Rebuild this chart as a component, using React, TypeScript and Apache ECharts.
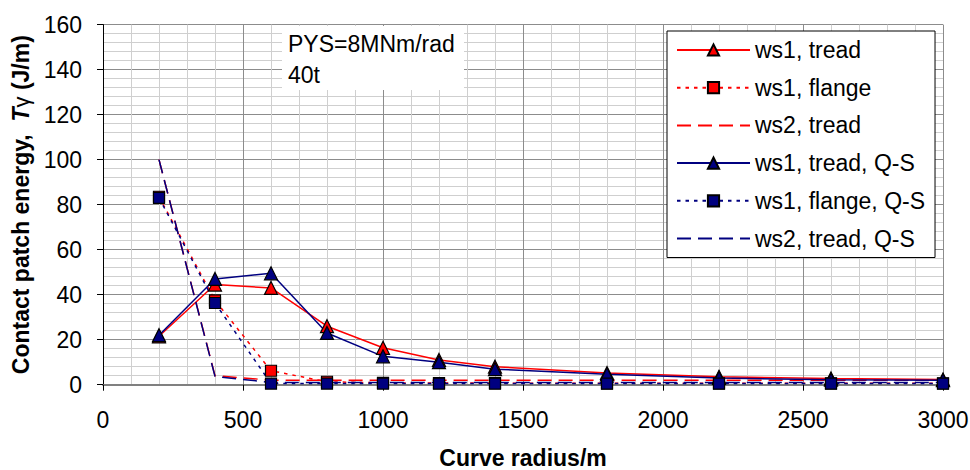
import React, { useEffect, useRef } from "react";
import * as echarts from "echarts";

const radius = [200, 400, 600, 800, 1000, 1200, 1400, 1800, 2200, 2600, 3000];
const ws1Tread = [21.5, 44.5, 43, 26, 16.4, 11, 8, 5.2, 3.5, 2.8, 2.3];
const ws1Flange = [83.5, 37.5, 6.2, 1.3, 0.8, 0.7, 0.7, 0.6, 0.6, 0.6, 0.6];
const ws2Tread = [100, 4, 2, 2, 2, 2, 2, 2, 2, 2, 2];
const ws1TreadQS = [22, 47, 49.5, 23, 12.6, 10, 6.9, 4.6, 3, 2.2, 2];
const ws1FlangeQS = [83, 36.3, 0.5, 0.5, 0.5, 0.5, 0.5, 0.5, 0.5, 0.5, 0.5];
const ws2TreadQS = [100, 3.7, 1, 1, 1, 1, 1, 1, 1, 1, 1];

const seriesNames = [
  "ws1, tread",
  "ws1, flange",
  "ws2, tread",
  "ws1, tread, Q-S",
  "ws1, flange, Q-S",
  "ws2, tread, Q-S",
];
const noteLines = ["PYS=8MNm/rad", "40t"];

const RED = "#ff0000";
const BLUE = "#000080";
const FONT = "'Liberation Sans', Arial, Helvetica, sans-serif";
const DOT = [3.5, 5];
const DASH = [14, 7];

const pairs = (ys: number[]) => radius.map((x, i) => [x, ys[i]]);

export default function App() {
  const ref = useRef<HTMLDivElement>(null);
  useEffect(() => {
    if (!ref.current) return;
    const chart = echarts.init(ref.current, undefined, { renderer: "svg" });
    const mk = (
      name: string,
      data: number[],
      color: string,
      type: any,
      symbol: string,
      size: number
    ) => ({
      name,
      type: "line",
      data: pairs(data),
      symbol,
      symbolSize: size,
      showSymbol: symbol !== "none",
      lineStyle: { color, width: 1.5, type },
      itemStyle: { color, borderColor: "#000", borderWidth: 1.2 },
      emphasis: { disabled: true },
    });
    const hidden = { color: "rgba(0,0,0,0)", borderColor: "rgba(0,0,0,0)", borderWidth: 0, opacity: 0 };
    const plain = (v: number) => String(v);
    chart.setOption({
      animation: false,
      textStyle: { fontFamily: FONT },
      grid: {
        left: 103,
        right: 27,
        top: 24.6,
        bottom: 85.3,
        containLabel: false,
        outerBoundsMode: "none",
      },
      xAxis: {
        type: "value",
        min: 0,
        max: 3000,
        interval: 500,
        name: "Curve radius/m",
        nameLocation: "middle",
        nameGap: 62,
        nameTextStyle: { fontSize: 23, fontWeight: "bold", color: "#000", fontFamily: FONT },
        axisLine: { show: true, onZero: false, lineStyle: { color: "#808080", width: 2 } },
        axisTick: { show: true, inside: false, length: 6, lineStyle: { color: "#000" } },
        axisLabel: { fontSize: 23, color: "#000", margin: 24, fontFamily: FONT, formatter: plain },
        splitLine: { show: true, lineStyle: { color: "#8c8c8c", width: 1 } },
        minorTick: { show: false, splitNumber: 5 },
        minorSplitLine: { show: true, lineStyle: { color: "#cfcfcf", width: 1 } },
      },
      yAxis: {
        type: "value",
        min: 0,
        max: 160,
        interval: 20,
        name: "Contact patch energy,  {i|T}{s|γ} (J/m)",
        nameLocation: "middle",
        nameGap: 63,
        nameTextStyle: {
          fontSize: 23,
          fontWeight: "bold",
          color: "#000",
          fontFamily: FONT,
          rich: {
            i: { fontSize: 23, fontWeight: "bold", fontStyle: "italic", color: "#000", fontFamily: FONT },
            s: { fontSize: 22, fontWeight: "normal", color: "#000", fontFamily: FONT, verticalAlign: "bottom" },
          },
        },
        axisLine: { show: true, lineStyle: { color: "#000", width: 1 } },
        axisTick: { show: true, inside: false, length: 6, lineStyle: { color: "#000" } },
        axisLabel: { fontSize: 23, color: "#000", margin: 21, fontFamily: FONT, formatter: plain },
        splitLine: { show: true, lineStyle: { color: "#8c8c8c", width: 1 } },
        minorTick: { show: false, splitNumber: 5 },
        minorSplitLine: { show: true, lineStyle: { color: "#cfcfcf", width: 1 } },
      },
      legend: {
        orient: "vertical",
        left: 667,
        top: 31,
        padding: [7.5, 10, 7.5, 9],
        itemWidth: 73,
        itemHeight: 14,
        itemGap: 14.7,
        selectedMode: false,
        backgroundColor: "#fff",
        borderColor: "#000",
        borderWidth: 1,
        textStyle: { fontSize: 23, color: "#000", fontFamily: FONT, lineHeight: 23 },
        data: [
          { name: seriesNames[0] },
          { name: seriesNames[1] },
          { name: seriesNames[2], itemStyle: hidden },
          { name: seriesNames[3] },
          { name: seriesNames[4] },
          { name: seriesNames[5], itemStyle: hidden },
        ],
      },
      graphic: [
        {
          type: "group",
          children: [
            { type: "rect", shape: { x: 282, y: 26, width: 182, height: 64 }, style: { fill: "#fff" }, z: 10 },
            {
              type: "text",
              x: 288,
              y: 44,
              z: 11,
              style: { text: noteLines[0], font: `23px ${FONT}`, fill: "#000", verticalAlign: "middle" },
            },
            {
              type: "text",
              x: 288,
              y: 75,
              z: 11,
              style: { text: noteLines[1], font: `23px ${FONT}`, fill: "#000", verticalAlign: "middle" },
            },
          ],
        },
      ],
      series: [
        mk(seriesNames[0], ws1Tread, RED, "solid", "triangle", 13),
        mk(seriesNames[1], ws1Flange, RED, DOT, "rect", 11),
        mk(seriesNames[2], ws2Tread, RED, DASH, "none", 0),
        mk(seriesNames[3], ws1TreadQS, BLUE, "solid", "triangle", 13),
        mk(seriesNames[4], ws1FlangeQS, BLUE, DOT, "rect", 11),
        mk(seriesNames[5], ws2TreadQS, BLUE, DASH, "none", 0),
      ],
    });
    return () => chart.dispose();
  }, []);
  return (
    <div
      ref={ref}
      style={{ position: "fixed", left: 0, top: 0, width: 970, height: 470, background: "#fff" }}
    />
  );
}
